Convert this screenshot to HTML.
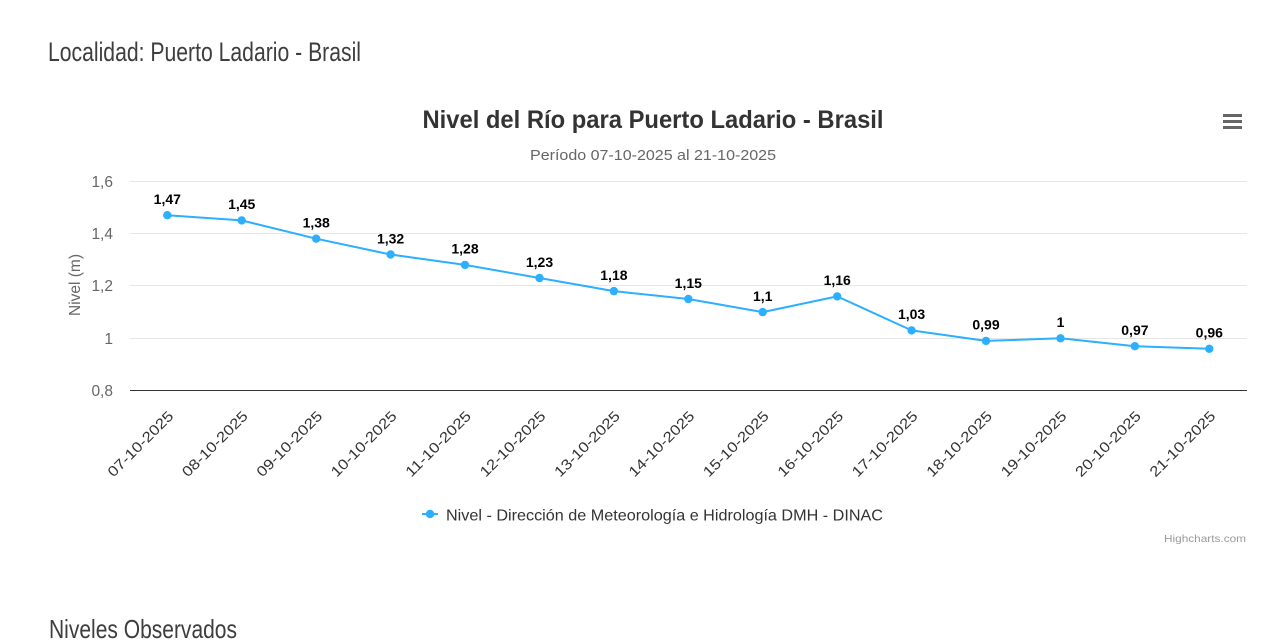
<!DOCTYPE html>
<html>
<head>
<meta charset="utf-8">
<style>
  html, body { margin:0; padding:0; background:#ffffff; }
  body { width:1280px; height:642px; overflow:hidden; }
  svg { display:block; }
  text { font-family: "Liberation Sans", "DejaVu Sans", sans-serif; }
</style>
</head>
<body>
<svg width="1280" height="642" viewBox="0 0 1280 642" xmlns="http://www.w3.org/2000/svg">
  <rect x="0" y="0" width="1280" height="642" fill="#ffffff"/>

  <!-- Page headings -->
  <text x="48" y="61" font-size="27" fill="#3e3e3e" textLength="313" lengthAdjust="spacingAndGlyphs">Localidad: Puerto Ladario - Brasil</text>
  <text x="49" y="638" font-size="26" fill="#3e3e3e" textLength="188" lengthAdjust="spacingAndGlyphs">Niveles Observados</text>

  <!-- Chart title -->
  <text x="422.5" y="128" font-size="25" font-weight="bold" fill="#333333" textLength="461" lengthAdjust="spacingAndGlyphs">Nivel del Río para Puerto Ladario - Brasil</text>
  <text x="530" y="160" font-size="15" fill="#666666" textLength="246" lengthAdjust="spacingAndGlyphs">Período 07-10-2025 al 21-10-2025</text>

  <!-- Hamburger menu -->
  <g stroke="#666666" stroke-width="3" stroke-linecap="butt">
    <line x1="1223" y1="115.5" x2="1242" y2="115.5"/>
    <line x1="1223" y1="121.5" x2="1242" y2="121.5"/>
    <line x1="1223" y1="127.5" x2="1242" y2="127.5"/>
  </g>

  <!-- Grid lines -->
  <g stroke="#e6e6e6" stroke-width="1">
    <line x1="130" y1="181.5" x2="1247" y2="181.5"/>
    <line x1="130" y1="233.5" x2="1247" y2="233.5"/>
    <line x1="130" y1="285.5" x2="1247" y2="285.5"/>
    <line x1="130" y1="338.5" x2="1247" y2="338.5"/>
  </g>
  <!-- X axis line -->
  <line x1="130" y1="390.5" x2="1247" y2="390.5" stroke="#333333" stroke-width="1"/>

  <!-- Y axis labels -->
  <g font-size="15.5" fill="#666666" text-anchor="end">
    <text x="113" y="187">1,6</text>
    <text x="113" y="239">1,4</text>
    <text x="113" y="291">1,2</text>
    <text x="113" y="344">1</text>
    <text x="113" y="396">0,8</text>
  </g>
  <!-- Y axis title -->
  <text transform="translate(80,285) rotate(-90)" font-size="15.5" fill="#666666" text-anchor="middle">Nivel (m)</text>

  <!-- X axis labels -->
  <g font-size="14.5" fill="#333333" text-anchor="end">
    <text transform="translate(174.3,417) rotate(-45)" textLength="86" lengthAdjust="spacingAndGlyphs">07-10-2025</text>
    <text transform="translate(248.7,417) rotate(-45)" textLength="86" lengthAdjust="spacingAndGlyphs">08-10-2025</text>
    <text transform="translate(323.2,417) rotate(-45)" textLength="86" lengthAdjust="spacingAndGlyphs">09-10-2025</text>
    <text transform="translate(397.6,417) rotate(-45)" textLength="86" lengthAdjust="spacingAndGlyphs">10-10-2025</text>
    <text transform="translate(472.0,417) rotate(-45)" textLength="86" lengthAdjust="spacingAndGlyphs">11-10-2025</text>
    <text transform="translate(546.5,417) rotate(-45)" textLength="86" lengthAdjust="spacingAndGlyphs">12-10-2025</text>
    <text transform="translate(620.9,417) rotate(-45)" textLength="86" lengthAdjust="spacingAndGlyphs">13-10-2025</text>
    <text transform="translate(695.3,417) rotate(-45)" textLength="86" lengthAdjust="spacingAndGlyphs">14-10-2025</text>
    <text transform="translate(769.7,417) rotate(-45)" textLength="86" lengthAdjust="spacingAndGlyphs">15-10-2025</text>
    <text transform="translate(844.2,417) rotate(-45)" textLength="86" lengthAdjust="spacingAndGlyphs">16-10-2025</text>
    <text transform="translate(918.6,417) rotate(-45)" textLength="86" lengthAdjust="spacingAndGlyphs">17-10-2025</text>
    <text transform="translate(993.0,417) rotate(-45)" textLength="86" lengthAdjust="spacingAndGlyphs">18-10-2025</text>
    <text transform="translate(1067.5,417) rotate(-45)" textLength="86" lengthAdjust="spacingAndGlyphs">19-10-2025</text>
    <text transform="translate(1141.9,417) rotate(-45)" textLength="86" lengthAdjust="spacingAndGlyphs">20-10-2025</text>
    <text transform="translate(1216.3,417) rotate(-45)" textLength="86" lengthAdjust="spacingAndGlyphs">21-10-2025</text>
  </g>

  <!-- Series line -->
  <polyline fill="none" stroke="#2caffe" stroke-width="2" stroke-linejoin="round" stroke-linecap="round"
    points="167.3,215.2 241.7,220.4 316.2,238.7 390.6,254.5 465.0,264.9 539.5,278.0 613.9,291.1 688.3,299.0 762.7,312.1 837.2,296.4 911.6,330.4 986.0,340.9 1060.5,338.3 1134.9,346.2 1209.3,348.8"/>
  <!-- Markers -->
  <g fill="#2caffe">
    <circle cx="167.3" cy="215.2" r="4.2"/>
    <circle cx="241.7" cy="220.4" r="4.2"/>
    <circle cx="316.2" cy="238.7" r="4.2"/>
    <circle cx="390.6" cy="254.5" r="4.2"/>
    <circle cx="465.0" cy="264.9" r="4.2"/>
    <circle cx="539.5" cy="278.0" r="4.2"/>
    <circle cx="613.9" cy="291.1" r="4.2"/>
    <circle cx="688.3" cy="299.0" r="4.2"/>
    <circle cx="762.7" cy="312.1" r="4.2"/>
    <circle cx="837.2" cy="296.4" r="4.2"/>
    <circle cx="911.6" cy="330.4" r="4.2"/>
    <circle cx="986.0" cy="340.9" r="4.2"/>
    <circle cx="1060.5" cy="338.3" r="4.2"/>
    <circle cx="1134.9" cy="346.2" r="4.2"/>
    <circle cx="1209.3" cy="348.8" r="4.2"/>
  </g>

  <!-- Data labels -->
  <g font-size="14" font-weight="bold" fill="#000000" text-anchor="middle">
    <text x="167.3" y="204">1,47</text>
    <text x="241.7" y="209.2">1,45</text>
    <text x="316.2" y="227.5">1,38</text>
    <text x="390.6" y="243.3">1,32</text>
    <text x="465.0" y="253.7">1,28</text>
    <text x="539.5" y="266.8">1,23</text>
    <text x="613.9" y="279.9">1,18</text>
    <text x="688.3" y="287.8">1,15</text>
    <text x="762.7" y="300.9">1,1</text>
    <text x="837.2" y="285.2">1,16</text>
    <text x="911.6" y="319.2">1,03</text>
    <text x="986.0" y="329.7">0,99</text>
    <text x="1060.5" y="327.1">1</text>
    <text x="1134.9" y="335.0">0,97</text>
    <text x="1209.3" y="337.6">0,96</text>
  </g>

  <!-- Legend -->
  <line x1="422" y1="514" x2="438" y2="514" stroke="#2caffe" stroke-width="2"/>
  <circle cx="430" cy="514" r="4.2" fill="#2caffe"/>
  <text x="446" y="520.5" font-size="16" fill="#333333" textLength="437" lengthAdjust="spacingAndGlyphs">Nivel - Dirección de Meteorología e Hidrología DMH - DINAC</text>

  <!-- Credits -->
  <text x="1246" y="542" font-size="10.5" fill="#999999" text-anchor="end" textLength="82" lengthAdjust="spacingAndGlyphs">Highcharts.com</text>
</svg>
</body>
</html>
